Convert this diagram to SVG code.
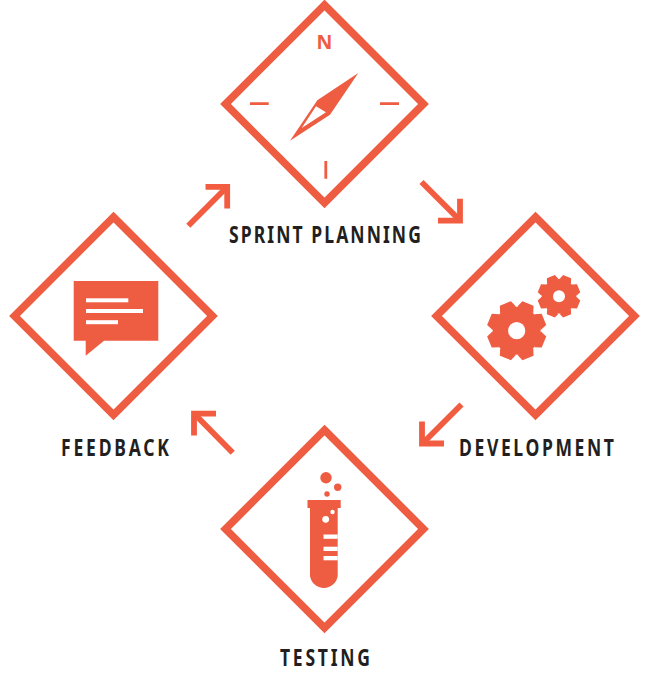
<svg xmlns="http://www.w3.org/2000/svg" xmlns:xlink="http://www.w3.org/1999/xlink" width="650" height="697" viewBox="0 0 650 697">
<style>
.d{fill:#fff;stroke:#ee5c42;stroke-width:7.6;stroke-miterlimit:10}
.f{fill:#ee5c42}
.w{fill:#fff}
.t{stroke:#ee5c42;stroke-width:2.8;fill:none}
.a{fill:none;stroke:#f25c40;stroke-width:5.8;stroke-miterlimit:10}
.l{font-family:"Noto Sans","Liberation Sans",sans-serif;font-weight:700;font-size:22.5px;fill:#231f20}
</style>
<defs>
<polygon id="tooth" points="-8.6,-22.5 -6,-29.5 6,-29.5 8.6,-22.5"/>
<g id="gear" class="f">
<circle r="24"/>
<use xlink:href="#tooth" href="#tooth" transform="rotate(22.5)"/>
<use xlink:href="#tooth" href="#tooth" transform="rotate(67.5)"/>
<use xlink:href="#tooth" href="#tooth" transform="rotate(112.5)"/>
<use xlink:href="#tooth" href="#tooth" transform="rotate(157.5)"/>
<use xlink:href="#tooth" href="#tooth" transform="rotate(202.5)"/>
<use xlink:href="#tooth" href="#tooth" transform="rotate(247.5)"/>
<use xlink:href="#tooth" href="#tooth" transform="rotate(292.5)"/>
<use xlink:href="#tooth" href="#tooth" transform="rotate(337.5)"/>
</g>
</defs>
<rect width="650" height="697" fill="#fff"/>
<g id="connectors">
<path class="a" d="M188.3,225.7 L226.5,187.5"/><path class="a" d="M205.5,186.8 H227.2 V208.5"/>
<path class="a" d="M421.5,182 L459.5,220"/><path class="a" d="M438,220.6 H460 V198.8"/>
<path class="a" d="M461.5,404.5 L423,443"/><path class="a" d="M444,443.5 H422 V421.5"/>
<path class="a" d="M232.7,452.7 L195,414.5"/><path class="a" d="M216,413.7 H194 V435.5"/>
</g>
<g id="sprint-planning">
<polygon class="d" points="324.5,5 423.5,104 324.5,203 225.5,104"/>
<text x="324.5" y="49" text-anchor="middle" style="font-family:'Noto Sans',sans-serif;font-weight:700;font-size:19.5px;fill:#ee5c42">N</text>
<path class="t" d="M250,103.7 H268.7 M380,103.7 H399 M325.8,161 V178.7"/>
<path class="f" fill-rule="evenodd" d="M358.3,73 L317.3,100.3 L290,140.7 L330,114.7 Z M316,106.3 L326,112.3 L301.7,128 Z"/>
</g>
<g id="development">
<polygon class="d" points="535.5,217 634.5,316 535.5,415 436.5,316"/>
<use xlink:href="#gear" href="#gear" transform="translate(516.7,330.7)"/>
<circle class="w" cx="516.7" cy="330.7" r="8.6"/>
<use xlink:href="#gear" href="#gear" transform="translate(559,296.3) scale(.72)"/>
<circle class="w" cx="559" cy="296.3" r="6"/>
</g>
<g id="testing">
<polygon class="d" points="324.5,430 423.5,529 324.5,628 225.5,529"/>
<circle class="f" cx="326" cy="477.7" r="5.7"/>
<circle class="f" cx="337.7" cy="487.3" r="3.7"/>
<circle class="f" cx="327" cy="494" r="2.7"/>
<path class="f" d="M307.5,500 H340.7 V508 H337.7 V576 A14,14 0 0 1 310,576 V508 H307.5 Z"/>
<circle class="w" cx="325.7" cy="519.3" r="3.4"/>
<circle class="w" cx="332.5" cy="512" r="2.2"/>
<rect class="w" x="323.5" y="534.5" width="14.2" height="4.3"/>
<rect class="w" x="323.5" y="546.7" width="14.2" height="4.3"/>
<rect class="w" x="323.5" y="556" width="14.2" height="4.3"/>
</g>
<g id="feedback">
<polygon class="d" points="113.5,217 212.5,316 113.5,415 14.5,316"/>
<path class="f" d="M73.7,281 H158.3 V340.7 H104 L85.7,355.7 V340.7 H73.7 Z"/>
<rect class="w" x="86" y="298.3" width="42.3" height="4"/>
<rect class="w" x="86" y="309" width="57" height="4"/>
<rect class="w" x="86" y="320.2" width="32" height="4"/>
</g>
<g id="labels">
<text class="l" transform="translate(229,243) scale(.78,1)" textLength="246" lengthAdjust="spacing">SPRINT PLANNING</text>
<text class="l" transform="translate(459,455.5) scale(.78,1)" textLength="198.7" lengthAdjust="spacing">DEVELOPMENT</text>
<text class="l" transform="translate(280,665.5) scale(.78,1)" textLength="115.4" lengthAdjust="spacing">TESTING</text>
<text class="l" transform="translate(61,455.5) scale(.78,1)" textLength="138.5" lengthAdjust="spacing">FEEDBACK</text>
</g>
</svg>
